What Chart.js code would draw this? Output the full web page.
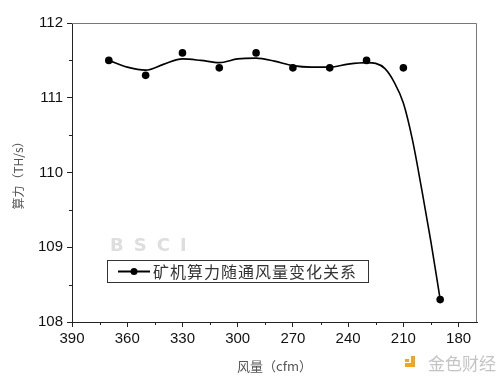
<!DOCTYPE html>
<html>
<head>
<meta charset="utf-8">
<script src="https://cdn.jsdelivr.net/npm/chart.js@4"></script>
<style>
html,body{margin:0;padding:0;background:#fff;}
#wrap{width:500px;height:381px;}
</style>
</head>
<body>
<div id="wrap"><canvas id="c" width="500" height="381"></canvas></div>
<script>
// ---- data ----
const windFlow = [370, 350, 330, 310, 290, 270, 250, 230, 210, 190];
const hashRate = [111.5, 111.3, 111.6, 111.4, 111.6, 111.4, 111.4, 111.5, 111.4, 108.3];
// smooth fitted curve
const fitX = [370, 360, 350, 340, 330, 320, 310, 300, 290, 280, 270, 260, 250, 240, 230, 225, 220, 215, 210, 205, 200, 195, 190];
const fitY = [111.5, 111.41, 111.37, 111.45, 111.52, 111.5, 111.47, 111.52, 111.53, 111.49, 111.43, 111.41, 111.41, 111.45, 111.47, 111.46, 111.39, 111.21, 110.93, 110.43, 109.77, 109.07, 108.3];
const xTickValues = [390, 360, 330, 300, 270, 240, 210, 180];
const xMinorValues = [375, 345, 315, 285, 255, 225, 195];
const yMinorValues = [108.5, 109.5, 110.5, 111.5];
const seriesLabel = '矿机算力随通风量变化关系';
const xTitle = '风量（cfm）';
const yTitle = '算力（TH/s）';

const decor = {
  id: 'decor',
  beforeDatasetsDraw(chart) {
    const ctx = chart.ctx;
    ctx.save();
    ctx.fillStyle = '#dedede';
    ctx.font = 'bold 18px "DejaVu Sans", sans-serif';
    ctx.letterSpacing = '10px';
    ctx.textBaseline = 'middle';
    ctx.textAlign = 'left';
    ctx.fillText('BSCI', 110, 246);
    ctx.restore();
  },
  afterDraw(chart) {
    const ctx = chart.ctx;
    const a = chart.chartArea;
    const xs = chart.scales.x, ys = chart.scales.y;
    ctx.save();
    // frame top/right
    ctx.strokeStyle = '#777';
    ctx.lineWidth = 1;
    ctx.beginPath();
    ctx.moveTo(a.left, a.top + 0.5);
    ctx.lineTo(a.right - 0.5, a.top + 0.5);
    ctx.lineTo(a.right - 0.5, a.bottom);
    ctx.stroke();
    // minor ticks
    ctx.strokeStyle = '#222';
    ctx.beginPath();
    xMinorValues.forEach(v => {
      const px = Math.round(xs.getPixelForValue(v)) + 0.5;
      ctx.moveTo(px, a.bottom);
      ctx.lineTo(px, a.bottom + 3);
    });
    yMinorValues.forEach(v => {
      const py = Math.round(ys.getPixelForValue(v)) + 0.5;
      ctx.moveTo(a.left, py);
      ctx.lineTo(a.left - 3, py);
    });
    ctx.stroke();
    // legend box
    ctx.strokeStyle = '#333';
    ctx.strokeRect(107.5, 260.5, 261, 22);
    ctx.strokeStyle = '#000';
    ctx.lineWidth = 2;
    ctx.beginPath();
    ctx.moveTo(118, 271.5);
    ctx.lineTo(150, 271.5);
    ctx.stroke();
    ctx.fillStyle = '#000';
    ctx.beginPath();
    ctx.arc(134, 271.5, 3.5, 0, Math.PI * 2);
    ctx.fill();
    ctx.fillStyle = '#333';
    ctx.font = '16px "Noto Sans CJK SC", sans-serif';
    ctx.letterSpacing = '1px';
    ctx.textBaseline = 'middle';
    ctx.textAlign = 'left';
    ctx.fillText(seriesLabel, 153, 272);
    // logo
    ctx.letterSpacing = '0px';
    ctx.fillStyle = '#f2a51e';
    ctx.fillRect(411, 356, 4, 11);
    ctx.fillRect(405, 363, 10, 4);
    ctx.fillRect(405, 359, 4, 3);
    ctx.fillStyle = '#c4c4c4';
    ctx.font = '17px "Noto Sans CJK SC", sans-serif';
    ctx.fillText('金色财经', 428, 364);
    ctx.restore();
  }
};

new Chart(document.getElementById('c'), {
  type: 'scatter',
  data: {
    datasets: [
      {
        label: seriesLabel + ' fit',
        data: fitX.map((x, i) => ({x: x, y: fitY[i]})),
        showLine: true,
        borderColor: '#000',
        borderWidth: 1.6,
        pointRadius: 0,
        cubicInterpolationMode: 'monotone',
        fill: false
      },
      {
        label: seriesLabel,
        data: windFlow.map((x, i) => ({x: x, y: hashRate[i]})),
        showLine: false,
        pointRadius: 3.8,
        pointBackgroundColor: '#000',
        pointBorderColor: '#000',
        pointBorderWidth: 0
      }
    ]
  },
  plugins: [decor],
  options: {
    responsive: false,
    animation: false,
    layout: {padding: {left: 0, top: 23, right: 23, bottom: 0}},
    plugins: {legend: {display: false}, tooltip: {enabled: false}},
    scales: {
      x: {
        type: 'linear',
        reverse: true,
        min: 170,
        max: 390,
        afterBuildTicks(scale) {
          scale.ticks = xTickValues.map(v => ({value: v}));
        },
        afterFit(scale) { scale.height = 59; },
        ticks: {
          color: '#111',
          font: {family: '"Liberation Sans", Arial, sans-serif', size: 15},
          padding: 3,
          maxRotation: 0,
          autoSkip: false
        },
        grid: {display: true, drawOnChartArea: false, drawTicks: true, tickLength: 5, color: '#222'},
        border: {display: true, color: '#222', width: 1},
        title: {
          display: true,
          text: xTitle,
          color: '#555',
          font: {family: '"Noto Sans CJK SC", sans-serif', size: 13},
          padding: {top: 0, bottom: 7}
        }
      },
      y: {
        type: 'linear',
        min: 108,
        max: 112,
        afterFit(scale) { scale.width = 72; },
        ticks: {
          stepSize: 1,
          color: '#111',
          font: {family: '"Liberation Sans", Arial, sans-serif', size: 15},
          padding: 4
        },
        grid: {display: true, drawOnChartArea: false, drawTicks: true, tickLength: 5, color: '#222'},
        border: {display: true, color: '#222', width: 1},
        title: {
          display: true,
          text: yTitle,
          color: '#555',
          font: {family: '"Noto Sans CJK SC", sans-serif', size: 12},
          padding: {top: 11, bottom: 0}
        }
      }
    }
  }
});
</script>
</body>
</html>
